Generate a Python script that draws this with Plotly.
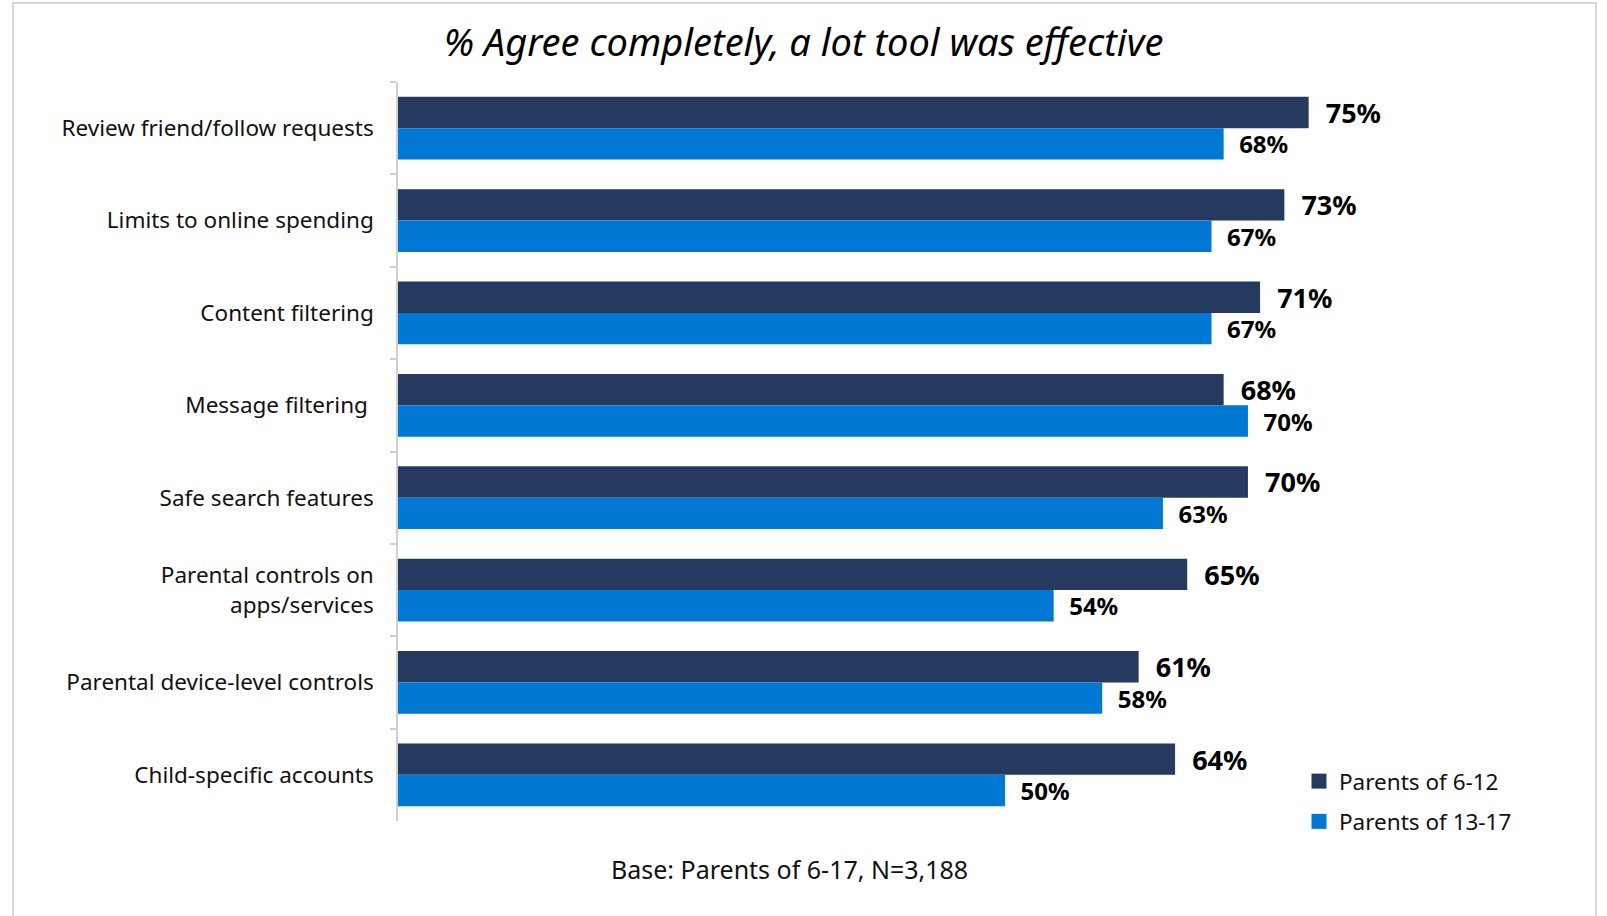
import plotly.graph_objects as go

# Survey results: share of parents who agreed the tool was effective
categories = [
    "Review friend/follow requests",
    "Limits to online spending",
    "Content filtering",
    "Message filtering ",
    "Safe search features",
    "Parental controls on<br>apps/services",
    "Parental device-level controls",
    "Child-specific accounts",
]
parents_6_12 = [75, 73, 71, 68, 70, 65, 61, 64]
parents_13_17 = [68, 67, 67, 70, 63, 54, 58, 50]
series_names = ["Parents of 6-12", "Parents of 13-17"]

DARK = "#263A60"
LIGHT = "#0078D4"
FONT = "Noto Sans"

W, H = 1607, 916
L, R, T, B = 398, 115, 82, 95
XMAX = 90.1
pw = W - L - R
ph = H - T - B


def px_x(X):
    return (X - L) / pw


def px_y(Y):
    return (H - B - Y) / ph


fig = go.Figure()
fig.add_trace(go.Bar(
    y=categories, x=parents_6_12, name=series_names[0], orientation="h",
    marker=dict(color=DARK, line=dict(width=0)), showlegend=False,
    text=[f"\u00a0\u00a0{v}%" for v in parents_6_12], textposition="outside",
    textfont=dict(family=FONT, size=27, color="#000000", weight="bold"),
    constraintext="none", cliponaxis=False,
))
fig.add_trace(go.Bar(
    y=categories, x=parents_13_17, name=series_names[1], orientation="h",
    marker=dict(color=LIGHT, line=dict(width=0)), showlegend=False,
    text=[f"\u00a0\u00a0{v}%" for v in parents_13_17], textposition="outside",
    textfont=dict(family=FONT, size=24, color="#000000", weight="bold"),
    constraintext="none", cliponaxis=False,
))

# Legend entries with square swatches
for name, color in zip(series_names, [DARK, LIGHT]):
    fig.add_trace(go.Scatter(
        x=[None], y=[None], mode="markers", name=name, legendgroup=name,
        marker=dict(symbol="square", size=15, color=color),
    ))

fig.update_layout(
    width=W, height=H,
    margin=dict(l=L, r=R, t=T, b=B, autoexpand=False),
    paper_bgcolor="white", plot_bgcolor="white",
    barmode="group", bargap=0.32, bargroupgap=0,
    font=dict(family=FONT, color="#000000"),
    title=dict(
        text="<i>% Agree completely, a lot tool was effective</i>",
        font=dict(family=FONT, size=38, color="#000000"),
        x=0.5, xref="container", xanchor="center",
        y=1 - 43 / H, yanchor="middle",
    ),
    xaxis=dict(range=[0, XMAX], visible=False, showgrid=False, zeroline=False),
    yaxis=dict(
        autorange="reversed", showgrid=False, zeroline=False,
        showline=True, linecolor="#D0D0D0", linewidth=1.5,
        ticks="outside", tickson="boundaries", ticklen=6, tickcolor="#D0D0D0",
        tickwidth=1.5,
        tickfont=dict(family=FONT, size=22.5, color="#111111"),
        ticklabelstandoff=18,
    ),
    legend=dict(
        x=px_x(1299), y=px_y(760), xanchor="left", yanchor="top",
        xref="paper", yref="paper", traceorder="grouped",
        font=dict(family=FONT, size=22.5, color="#111111"),
        bgcolor="rgba(0,0,0,0)", tracegroupgap=8,
    ),
    shapes=[dict(
        type="rect", xref="paper", yref="paper",
        x0=px_x(13), x1=px_x(1596), y0=px_y(930), y1=px_y(3),
        line=dict(color="#D9D9D9", width=2), fillcolor="rgba(0,0,0,0)",
        layer="below",
    )],
    annotations=[dict(
        text="Base: Parents of 6-17, N=3,188",
        x=px_x(789), y=px_y(869), xref="paper", yref="paper",
        xanchor="center", yanchor="middle", showarrow=False,
        font=dict(family=FONT, size=25, color="#111111"),
    )],
)

fig.write_html("out.html")
